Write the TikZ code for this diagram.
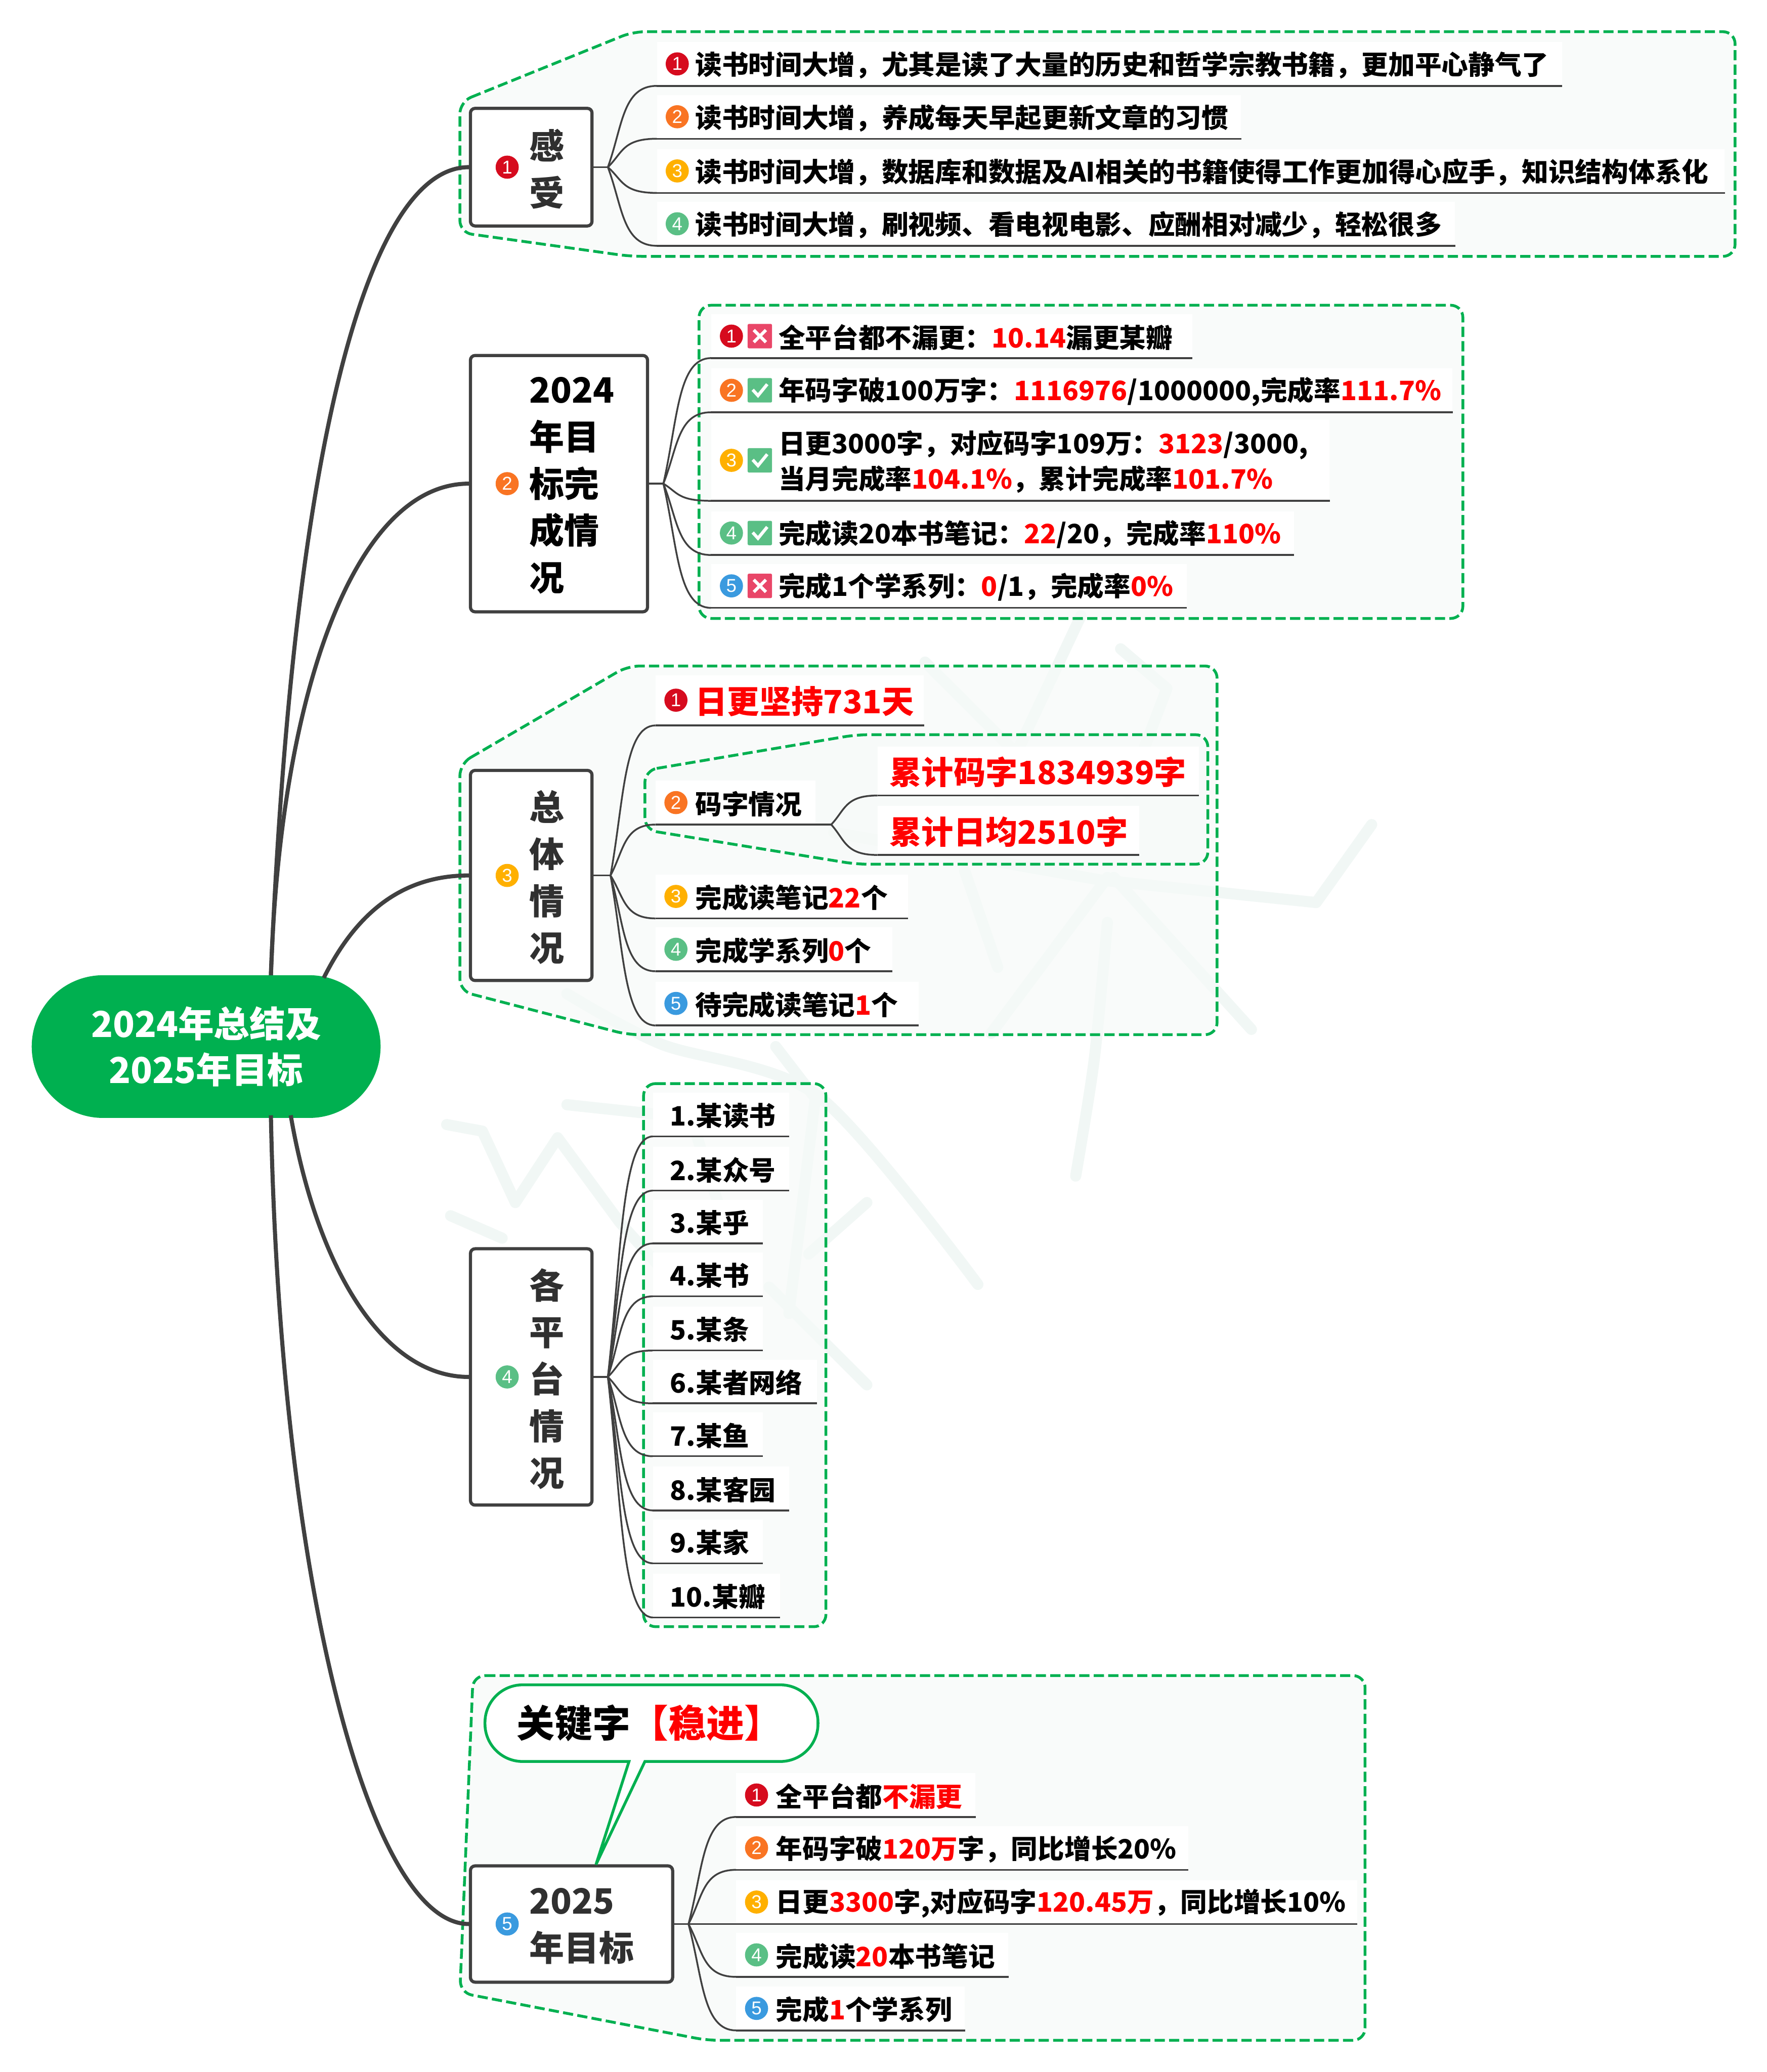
\documentclass[tikz,border=0pt]{standalone}
\usepackage{fontspec}
\setmainfont{Noto Sans CJK SC}
\newfontfamily\digitfont{Liberation Sans}
\usetikzlibrary{calc}
\usetikzlibrary{positioning}

\def\pxu{1.4226pt}
\definecolor{tone1}{HTML}{D60B1E}
\definecolor{tone2}{HTML}{F97423}
\definecolor{tone3}{HTML}{FFB000}
\definecolor{tone4}{HTML}{5ABF85}
\definecolor{tone5}{HTML}{3A9ADF}
\definecolor{missred}{HTML}{E94668}
\definecolor{zonegreen}{HTML}{00B050}
\definecolor{zonefill}{HTML}{F6FAF8}
\definecolor{inkgrey}{HTML}{404040}
\definecolor{stemgrey}{HTML}{303030}
\definecolor{faint}{HTML}{F1F7F5}
\definecolor{hotred}{HTML}{FF0000}

\tikzset{
    limb/.style={draw=inkgrey, line width=4.4pt},
    twigline/.style={draw=inkgrey, line width=1.9pt},
    zone/.style={draw=zonegreen, fill=zonefill, fill opacity=0.7, line width=3pt, dash pattern=on 11pt off 4.6pt, rounded corners=13pt},
    rootbox/.style={fill=zonegreen, text=white, align=center, inner sep=0pt, rounded corners={54*\pxu}, font=\fontsize{38.5}{49.8}\selectfont\bfseries},
    stembox/.style={draw=inkgrey, fill=white, line width=3.4pt, inner sep=0pt, rounded corners=5pt},
    stemtext/.style={anchor=west, align=left, inner sep=0pt, text=stemgrey, font=\fontsize{37.6}{50.5}\selectfont\bfseries},
    leafbox/.style={anchor=south west, fill=white, inner sep=0pt, minimum height={33*\pxu}},
    leaftext/.style={anchor=west, align=left, inner sep=0pt, font=\fontsize{28.7}{38.4}\selectfont\bfseries},
    dot/.style={circle, text=white, inner sep=0pt, minimum size={17.5*\pxu}, font=\digitfont\fontsize{20}{20}\selectfont},
    iconbox/.style={fill=#1, inner sep=0pt, minimum size={18.5*\pxu}, rounded corners=1.5pt},
    iconmark/.style={draw=white, line width=3.4pt},
    callout/.style={draw=zonegreen, fill=white, line width=3pt},
    wmark/.style={draw=faint, line width=12pt, line cap=round, line join=round},
}

\newcommand{\redt}[1]{\textcolor{hotred}{#1}}
\newcommand{\bigt}{\fontsize{34.5}{42}\selectfont}
\newcommand{\leaf}[7][]{
    \node[leafbox, minimum width={(#5-#3)*\pxu}, #1] (#2) at (#3,#4) {};
    \node[leaftext] (#2t) at ($(#2.west)+(#6,1)$) {#7};
    \draw[twigline] (#2.south west) -- (#2.south east);
}
\newcommand{\leafdot}[2]{\node[dot, fill=tone#2] (#1n) at ($(#1.west)+(15.5,0)$) {#2};}
\newcommand{\stemdot}[2]{\node[dot, fill=tone#2] (#1n) at ($(#1.west)+(29,0)$) {#2};}
\newcommand{\iconmiss}[1]{
    \node[iconbox=missred] (#1i) at ($(#1.west)+(37,0)$) {};
    \draw[iconmark] ($(#1i)+(-4.6,-4.6)$) -- ($(#1i)+(4.6,4.6)$);
    \draw[iconmark] ($(#1i)+(-4.6,4.6)$) -- ($(#1i)+(4.6,-4.6)$);
}
\newcommand{\iconhit}[1]{
    \node[iconbox=tone4] (#1i) at ($(#1.west)+(37,0)$) {};
    \draw[iconmark] ($(#1i)+(-5.4,-0.4)$) -- ($(#1i)+(-1.4,4)$) -- ($(#1i)+(5.6,-4.6)$);
}
\newcommand{\twig}[2]{
    \coordinate (bendx) at ($(#1)!0.3!(#2)$);
    \coordinate (bendy) at ($(#1)!0.5!(#2)$);
    \draw[twigline] (#1) .. controls (bendx |- bendy) and (bendx |- #2) .. (#2);
}

\begin{document}
\begin{tikzpicture}[x=0.05cm, y=-0.05cm]
    \useasboundingbox (0,0) rectangle (1337,1568);

    % watermark
    \draw[wmark] (818,466) -- (755,600);
    \draw[wmark] (700,501) -- (789,590);
    \draw[wmark] (848,491) -- (883,521) -- (853,600);
    \draw[wmark] (631,630) -- (833,666) -- (996,683) -- (1038,624);
    \draw[wmark] plot[smooth] coordinates {(838,698) (828,802) (814,890)};
    \draw[wmark] (838,664) -- (750,782);
    \draw[wmark] (843,664) -- (947,779);
    \draw[wmark] (730,659) -- (755,732);
    \draw[wmark] plot[smooth] coordinates {(429,752) (500,790) (620,830) (740,972)};
    \draw[wmark] (429,836) -- (523,846) -- (548,925);
    \draw[wmark] (338,851) -- (365,856) -- (390,910) -- (422,861) -- (469,925) -- (513,974);
    \draw[wmark] (341,920) -- (380,937);
    \draw[wmark] (587,792) -- (617,831) -- (597,994);
    \draw[wmark] (582,974) -- (656,1048);
    \draw[wmark] (656,910) -- (612,949);

    % groups
    \draw[zone] (348,77) -- (479,24) -- (1313,24) -- (1313,194) -- (477,194) -- (348,176) -- cycle;
    \draw[zone] (529,231) -- (1107,231) -- (1107,468) -- (529,468) -- cycle;
    \draw[zone] (348,578) -- (475,504) -- (921,504) -- (921,783) -- (475,783) -- (348,750) -- cycle;
    \draw[zone] (488,583) -- (648,556) -- (914,556) -- (914,654) -- (648,654) -- (488,628) -- cycle;
    \draw[zone] (487,820) -- (625,820) -- (625,1231) -- (487,1231) -- cycle;
    \draw[zone] (358,1268) -- (1033,1268) -- (1033,1544) -- (535,1544) -- (348,1508) -- cycle;

    \node[rootbox, minimum width={264*\pxu}, minimum height={108*\pxu}] (root) at (156,792) {2024年总结及\\2025年目标};
    \node[stembox, minimum width={92*\pxu}, minimum height={89*\pxu}] (feel) at (402,126.5) {};
    \node[stembox, minimum width={134*\pxu}, minimum height={194*\pxu}] (plan) at (423,366) {};
    \node[stembox, minimum width={92*\pxu}, minimum height={159*\pxu}] (total) at (402,662.5) {};
    \node[stembox, minimum width={92*\pxu}, minimum height={194*\pxu}] (site) at (402,1042) {};
    \node[stembox, minimum width={153*\pxu}, minimum height={88*\pxu}] (next) at (432.5,1456) {};

    \coordinate (rootA) at (205,738);
    \coordinate (rootC) at (245,740);
    \coordinate (rootD) at (220,844);
    \coordinate (rootE) at (205,844);
    \draw[limb] (rootA) .. controls (222,330) and (280,126.5) .. (feel.west);
    \draw[limb] (rootA) .. controls (212,520) and (270,366) .. (plan.west);
    \draw[limb] (rootC) .. controls (270,690) and (305,662.5) .. (total.west);
    \draw[limb] (rootD) .. controls (240,960) and (290,1042) .. (site.west);
    \draw[limb] (rootE) .. controls (212,1200) and (280,1456) .. (next.west);

    \node[stemtext] (feelt) at ($(feel.west)+(45.5,1.5)$) {感\\受};
    \node[stemtext, text=black] (plant) at ($(plan.west)+(45.5,1.5)$) {2024\\年目\\标完\\成情\\况};
    \node[stemtext] (totalt) at ($(total.west)+(45.5,1.5)$) {总\\体\\情\\况};
    \node[stemtext] (sitet) at ($(site.west)+(45.5,1.5)$) {各\\平\\台\\情\\况};
    \node[stemtext] (nextt) at ($(next.west)+(45.5,1.5)$) {2025\\年目标};
    \stemdot{feel}{1}
    \stemdot{plan}{2}
    \stemdot{total}{3}
    \stemdot{site}{4}
    \stemdot{next}{5}

    \leaf{feel1}{497}{65}{1182}{29}{读书时间大增，尤其是读了大量的历史和哲学宗教书籍，更加平心静气了}
    \leaf{feel2}{497}{105}{939}{29}{读书时间大增，养成每天早起更新文章的习惯}
    \leaf{feel3}{497}{146}{1305}{29}{读书时间大增，数据库和数据及AI相关的书籍使得工作更加得心应手，知识结构体系化}
    \leaf{feel4}{497}{186}{1101}{29}{读书时间大增，刷视频、看电视电影、应酬相对减少，轻松很多}
    \leafdot{feel1}{1}
    \leafdot{feel2}{2}
    \leafdot{feel3}{3}
    \leafdot{feel4}{4}
    \coordinate (hubA) at (460,126.5);
    \draw[twigline] (feel.east) -- (hubA);
    \twig{hubA}{feel1.south west}
    \twig{hubA}{feel2.south west}
    \twig{hubA}{feel3.south west}
    \twig{hubA}{feel4.south west}

    \leaf{plan1}{538}{271}{902}{51}{全平台都不漏更：\redt{10.14}漏更某瓣}
    \leaf{plan2}{538}{312}{1099}{51}{年码字破100万字：\redt{1116976}/1000000,完成率\redt{111.7\%}}
    \leaf[minimum height={61*\pxu}]{plan3}{538}{379}{1006}{51}{日更3000字，对应码字109万：\redt{3123}/3000,\\当月完成率\redt{104.1\%}，累计完成率\redt{101.7\%}}
    \leaf{plan4}{538}{420}{979}{51}{完成读20本书笔记：\redt{22}/20，完成率\redt{110\%}}
    \leaf{plan5}{538}{460}{898}{51}{完成1个学系列：\redt{0}/1，完成率\redt{0\%}}
    \leafdot{plan1}{1}
    \leafdot{plan2}{2}
    \leafdot{plan3}{3}
    \leafdot{plan4}{4}
    \leafdot{plan5}{5}
    \iconmiss{plan1}
    \iconhit{plan2}
    \iconhit{plan3}
    \iconhit{plan4}
    \iconmiss{plan5}
    \coordinate (hubB) at (502,366);
    \draw[twigline] (plan.east) -- (hubB);
    \twig{hubB}{plan1.south west}
    \twig{hubB}{plan2.south west}
    \twig{hubB}{plan3.south west}
    \twig{hubB}{plan4.south west}
    \twig{hubB}{plan5.south west}

    \leaf[minimum height={38*\pxu}]{total1}{496}{549}{699}{30}{\bigt\redt{日更坚持731天}}
    \leaf{total2}{496}{624}{617}{30}{码字情况}
    \leaf{total3}{496}{695}{687}{30}{完成读笔记\redt{22}个}
    \leaf{total4}{496}{735}{675}{30}{完成学系列\redt{0}个}
    \leaf{total5}{496}{776}{695}{30}{待完成读笔记\redt{1}个}
    \leafdot{total1}{1}
    \leafdot{total2}{2}
    \leafdot{total3}{3}
    \leafdot{total4}{4}
    \leafdot{total5}{5}
    \coordinate (hubC) at (462,662.5);
    \draw[twigline] (total.east) -- (hubC);
    \twig{hubC}{total1.south west}
    \twig{hubC}{total2.south west}
    \twig{hubC}{total3.south west}
    \twig{hubC}{total4.south west}
    \twig{hubC}{total5.south west}

    \leaf[minimum height={37*\pxu}]{word1}{664}{602}{907}{9}{\bigt\redt{累计码字1834939字}}
    \leaf[minimum height={37*\pxu}]{word2}{664}{647}{862}{9}{\bigt\redt{累计日均2510字}}
    \coordinate (hubW) at (629,624);
    \draw[twigline] (total2.south east) -- (hubW);
    \twig{hubW}{word1.south west}
    \twig{hubW}{word2.south west}

    \leaf{site1}{494}{860}{597}{13}{1.某读书}
    \leaf{site2}{494}{901}{597}{13}{2.某众号}
    \leaf{site3}{494}{941}{577}{13}{3.某乎}
    \leaf{site4}{494}{981}{577}{13}{4.某书}
    \leaf{site5}{494}{1022}{577}{13}{5.某条}
    \leaf{site6}{494}{1062}{618}{13}{6.某者网络}
    \leaf{site7}{494}{1102}{577}{13}{7.某鱼}
    \leaf{site8}{494}{1143}{597}{13}{8.某客园}
    \leaf{site9}{494}{1183}{577}{13}{9.某家}
    \leaf{site10}{494}{1224}{590}{13}{10.某瓣}
    \coordinate (hubD) at (460,1042);
    \draw[twigline] (site.east) -- (hubD);
    \twig{hubD}{site1.south west}
    \twig{hubD}{site2.south west}
    \twig{hubD}{site3.south west}
    \twig{hubD}{site4.south west}
    \twig{hubD}{site5.south west}
    \twig{hubD}{site6.south west}
    \twig{hubD}{site7.south west}
    \twig{hubD}{site8.south west}
    \twig{hubD}{site9.south west}
    \twig{hubD}{site10.south west}

    \leaf{next1}{557}{1375}{738}{30}{全平台都\redt{不漏更}}
    \leaf{next2}{557}{1415}{899}{30}{年码字破\redt{120万}字，同比增长20\%}
    \leaf{next3}{557}{1456}{1027}{30}{日更\redt{3300}字,对应码字\redt{120.45万}，同比增长10\%}
    \leaf{next4}{557}{1496}{763}{30}{完成读\redt{20}本书笔记}
    \leaf{next5}{557}{1536.5}{730}{30}{完成\redt{1}个学系列}
    \leafdot{next1}{1}
    \leafdot{next2}{2}
    \leafdot{next3}{3}
    \leafdot{next4}{4}
    \leafdot{next5}{5}
    \coordinate (hubE) at (521,1456);
    \draw[twigline] (next.east) -- (hubE);
    \twig{hubE}{next1.south west}
    \twig{hubE}{next2.south west}
    \twig{hubE}{next3.south west}
    \twig{hubE}{next4.south west}
    \twig{hubE}{next5.south west}

    \coordinate (keyTip) at (451,1411);
    \draw[callout] (476,1333) [rounded corners={28.5*\pxu}] -- (367,1333) -- (367,1275) -- (619,1275) -- (619,1333) [sharp corners] -- (488,1333) -- (keyTip) -- cycle;
    \node[anchor=west, inner sep=0pt, font=\fontsize{40.8}{46}\selectfont\bfseries] (key) at (391,1304) {关键字\redt{【稳进】}};
\end{tikzpicture}
\end{document}
